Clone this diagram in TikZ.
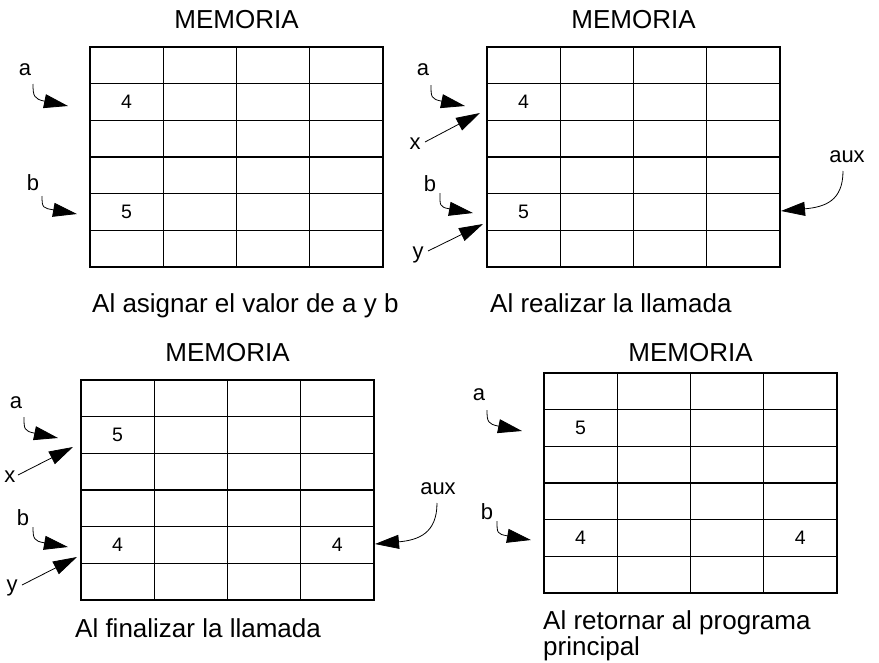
\documentclass[tikz,border=0pt]{standalone}
\usepackage{fontspec}
\setmainfont{Liberation Sans}
\usetikzlibrary{arrows.meta}
\tikzset{
  gridline/.style={line width=1.2pt, black},
  title/.style={font=\fontsize{26}{30}\selectfont, anchor=base, inner sep=0pt},
  caption/.style={font=\fontsize{26}{26}\selectfont, anchor=base west, inner sep=0pt, align=left},
  lbl/.style={font=\fontsize{22}{24}\selectfont, inner sep=0.5pt},
  num/.style={font=\fontsize{19.5}{22}\selectfont, inner sep=0pt},
  arr/.style={line width=0.8pt, -{Triangle[length=24pt,width=14pt]}},
}
\newcommand\memgrid[2]{%
  \begin{scope}[shift={(#1,#2)}]
    \draw[gridline] (0,0) rectangle (293,220);
    \foreach \i in {1,2,3} \draw[gridline] (\i*73.25,0) -- (\i*73.25,220);
    \foreach \j in {1,...,5} \draw[gridline] (0,\j*36.667) -- (293,\j*36.667);
  \end{scope}}
\begin{document}
\begin{tikzpicture}[x=1pt,y=-1pt]
\useasboundingbox (0,0) rectangle (879,662);

% ---------- Panel 1 ----------
\memgrid{90}{47}
\node[title] (t1) at (236.5,28) {MEMORIA};
\node[num] (n1a) at (126.6,101.5) {4};
\node[num] (n1b) at (126.6,211.5) {5};
\node[lbl] (a1) at (25,70) {a};
\coordinate (a1tip) at (68,106);
\draw[arr] ([shift={(8,14)}]a1.center) .. controls +(0,12) and +(-34,-7) .. (a1tip);
\node[lbl] (b1) at (33,183) {b};
\coordinate (b1tip) at (77,214);
\draw[arr] ([shift={(9,13)}]b1.center) .. controls +(0,12) and +(-34,-6) .. (b1tip);
\node[caption] (c1) at (92,312) {Al asignar el valor de a y b};

% ---------- Panel 2 ----------
\memgrid{487}{47}
\node[title] (t2) at (633.5,28) {MEMORIA};
\node[num] (n2a) at (523.6,101.5) {4};
\node[num] (n2b) at (523.6,211.5) {5};
\node[lbl] (a2) at (423,70) {a};
\coordinate (a2tip) at (465,106);
\draw[arr] ([shift={(8,15)}]a2.center) .. controls +(0,12) and +(-34,-7) .. (a2tip);
\node[lbl] (x2) at (415,144) {x};
\coordinate (x2tip) at (480,113);
\draw[arr] ([shift={(10,-2)}]x2.center) -- (x2tip);
\node[lbl] (b2) at (430,184) {b};
\coordinate (b2tip) at (473,213);
\draw[arr] ([shift={(10,9)}]b2.center) .. controls +(0,12) and +(-34,-6) .. (b2tip);
\node[lbl] (y2) at (418,255) {y};
\coordinate (y2tip) at (483,224);
\draw[arr] ([shift={(10,-4)}]y2.center) -- (y2tip);
\node[lbl] (aux2) at (847,157) {aux};
\coordinate (aux2tip) at (781,211);
\draw[arr] ([shift={(-4,14)}]aux2.center) .. controls +(0,30) and +(44,-4) .. (aux2tip);
\node[caption] (c2) at (490,312) {Al realizar la llamada};

% ---------- Panel 3 ----------
\memgrid{81}{380}
\node[title] (t3) at (227.5,361.7) {MEMORIA};
\node[num] (n3a) at (117.6,435) {5};
\node[num] (n3b) at (117.6,545) {4};
\node[num] (n3c) at (337.4,545) {4};
\node[lbl] (a3) at (16,403) {a};
\coordinate (a3tip) at (58,438);
\draw[arr] ([shift={(8,14)}]a3.center) .. controls +(0,12) and +(-34,-7) .. (a3tip);
\node[lbl] (x3) at (10,477) {x};
\coordinate (x3tip) at (73,447);
\draw[arr] ([shift={(8,-2)}]x3.center) -- (x3tip);
\node[lbl] (b3) at (23,518) {b};
\coordinate (b3tip) at (68,547);
\draw[arr] ([shift={(10,9)}]b3.center) .. controls +(0,12) and +(-34,-6) .. (b3tip);
\node[lbl] (y3) at (12,588) {y};
\coordinate (y3tip) at (77,557);
\draw[arr] ([shift={(10,-3)}]y3.center) -- (y3tip);
\node[lbl] (aux3) at (438,489) {aux};
\coordinate (aux3tip) at (375,544);
\draw[arr] ([shift={(-1,14)}]aux3.center) .. controls +(0,30) and +(44,-4) .. (aux3tip);
\node[caption] (c3) at (75,637) {Al finalizar la llamada};

% ---------- Panel 4 ----------
\memgrid{544}{373}
\node[title] (t4) at (690.5,361.7) {MEMORIA};
\node[num] (n4a) at (580.6,428) {5};
\node[num] (n4b) at (580.6,538) {4};
\node[num] (n4c) at (800.4,538) {4};
\node[lbl] (a4) at (479,395) {a};
\coordinate (a4tip) at (522,431);
\draw[arr] ([shift={(8,15)}]a4.center) .. controls +(0,12) and +(-34,-7) .. (a4tip);
\node[lbl] (b4) at (487,512) {b};
\coordinate (b4tip) at (531,540);
\draw[arr] ([shift={(10,9)}]b4.center) .. controls +(0,12) and +(-34,-6) .. (b4tip);
\node[caption] (c4) at (543,655) {Al retornar al programa\\principal};
\end{tikzpicture}
\end{document}
